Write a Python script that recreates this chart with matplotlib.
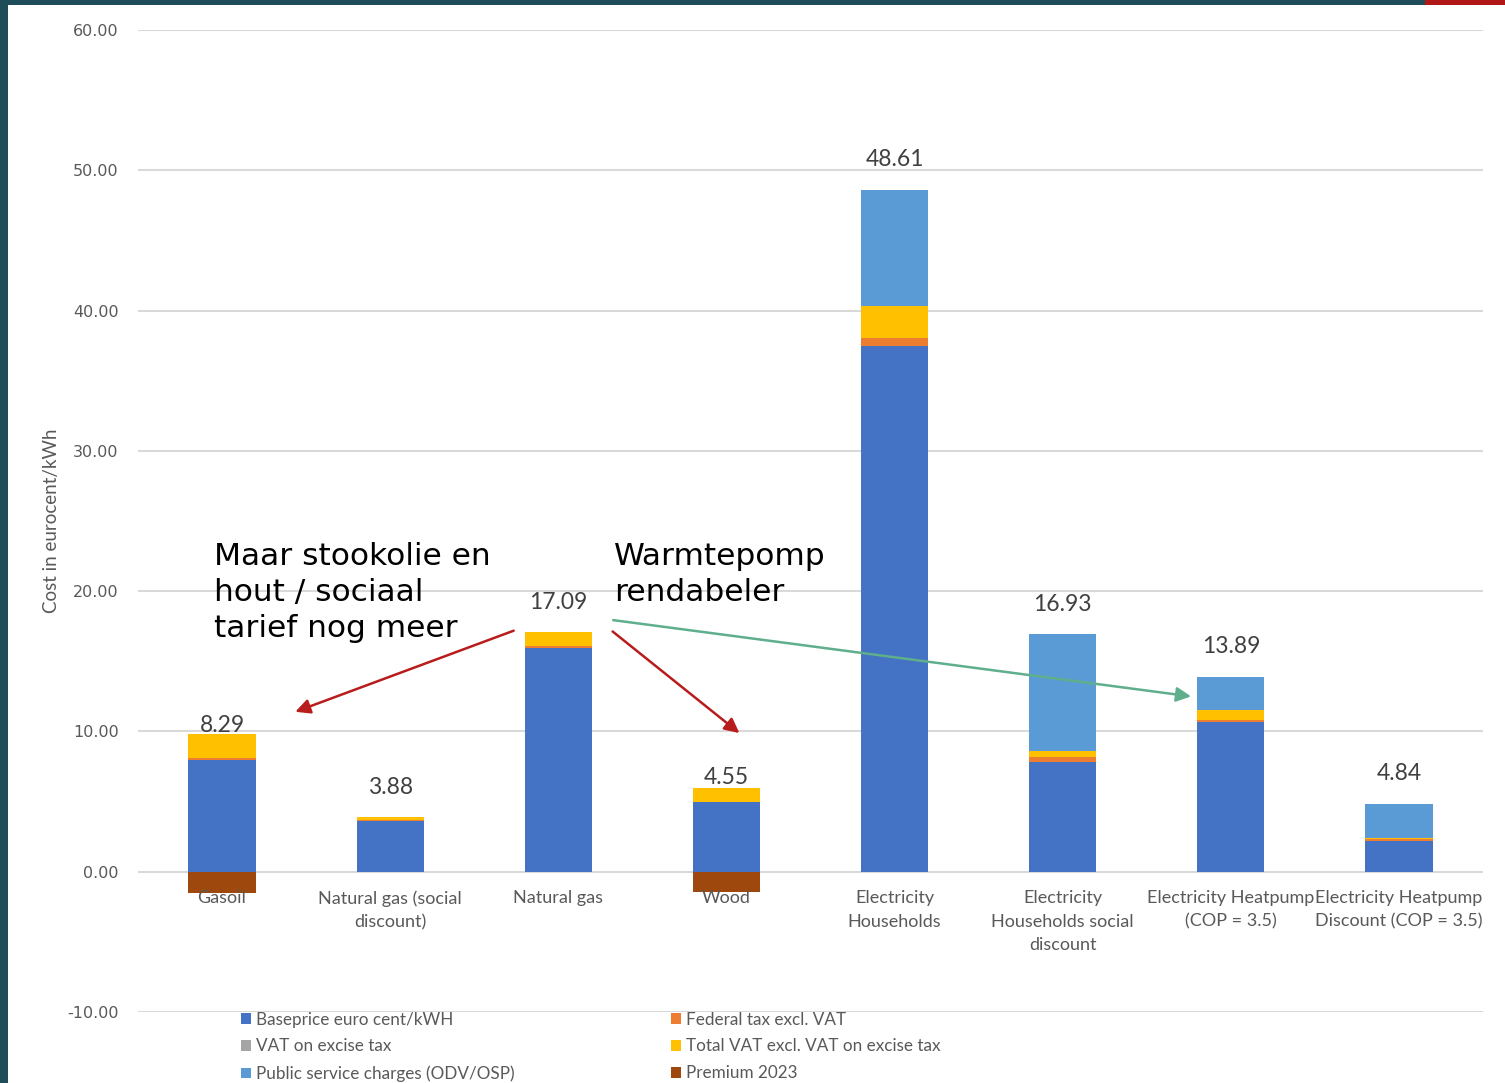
import matplotlib.pyplot as plt
from matplotlib.patches import Rectangle, Patch
import numpy as np

# categories and stacked components (eurocent/kWh)
categories = ["Gasoil", "Natural gas (social\ndiscount)", "Natural gas", "Wood",
              "Electricity\nHouseholds", "Electricity\nHouseholds social\ndiscount",
              "Electricity Heatpump\n(COP = 3.5)", "Electricity Heatpump\nDiscount (COP = 3.5)"]
baseprice = [7.93, 3.63, 15.95, 4.94, 37.51, 7.79, 10.69, 2.21]
federal_tax = [0.15, 0.03, 0.15, 0.0, 0.52, 0.36, 0.15, 0.10]
vat_excise = [0.0, 0.0, 0.0, 0.0, 0.0, 0.0, 0.0, 0.0]
total_vat = [1.72, 0.22, 0.99, 1.05, 2.33, 0.42, 0.66, 0.12]
public_service = [0.0, 0.0, 0.0, 0.0, 8.25, 8.36, 2.39, 2.41]
premium = [-1.51, 0.0, 0.0, -1.44, 0.0, 0.0, 0.0, 0.0]
totals = [8.29, 3.88, 17.09, 4.55, 48.61, 16.93, 13.89, 4.84]

series = [
    ("Baseprice euro cent/kWH", baseprice, "#4472C4"),
    ("Federal tax excl. VAT", federal_tax, "#ED7D31"),
    ("VAT on excise tax", vat_excise, "#A5A5A5"),
    ("Total VAT excl. VAT on excise tax", total_vat, "#FFC000"),
    ("Public service charges (ODV/OSP)", public_service, "#5B9BD5"),
    ("Premium 2023", premium, "#9E480E"),
]

plt.rcParams["font.family"] = ["Lato", "DejaVu Sans"]

fig = plt.figure(figsize=(15.05, 10.83), dpi=100)
fig.patch.set_facecolor("#1e4c58")
# white slide panel + red corner
fig.add_artist(Rectangle((8 / 1505, 0), 1, 1 - 5 / 1083, transform=fig.transFigure,
                         facecolor="white", edgecolor="none", zorder=0))
fig.add_artist(Rectangle((1425 / 1505, 1 - 5 / 1083), 1, 5 / 1083, transform=fig.transFigure,
                         facecolor="#b01818", edgecolor="none", zorder=0))

ax = fig.add_axes([138 / 1505, 71 / 1083, 1345 / 1505, 982 / 1083])
ax.set_facecolor("none")

x = np.arange(len(categories))
width = 0.4
pos_bottom = np.zeros(len(categories))
for name, vals, color in series:
    vals = np.array(vals)
    if name == "Premium 2023":
        ax.bar(x, vals, width, bottom=0, color=color, zorder=3)
    else:
        ax.bar(x, vals, width, bottom=pos_bottom, color=color, zorder=3)
        pos_bottom += vals

for i, t in enumerate(totals):
    ax.annotate(f"{t:.2f}", xy=(i, t), xytext=(0, 14), textcoords="offset points",
                ha="center", va="bottom", fontsize=16.5, color="#404040", zorder=5)

for i, c in enumerate(categories):
    ax.annotate(c, xy=(i, 0), xytext=(0, -13.5), textcoords="offset points",
                ha="center", va="top", fontsize=13, color="#595959",
                linespacing=1.55, zorder=5)

ax.set_xlim(-0.5, 7.5)
ax.set_ylim(-10, 60)
ax.set_yticks(np.arange(-10, 61, 10))
ax.set_yticklabels([f"{v:.2f}" for v in np.arange(-10, 61, 10)], family="DejaVu Sans")
ax.tick_params(axis="y", length=0, pad=14, labelsize=11.5, labelcolor="#595959")
ax.set_xticks([])
ax.grid(axis="y", color="#d9d9d9", linewidth=1.5, zorder=0)
for s in ax.spines.values():
    s.set_visible(False)
ax.set_ylabel("Cost in eurocent/kWh", fontsize=13.5, color="#595959")
ax.yaxis.set_label_coords(-78 / 1345, 0.5)

# slide annotations
ax.text(-0.05, 23.5, "Maar stookolie en\nhout / sociaal\ntarief nog meer", fontsize=22.5,
        family="DejaVu Sans", color="black", va="top", ha="left", linespacing=1.3, zorder=6)
ax.text(2.33, 23.5, "Warmtepomp\nrendabeler", fontsize=22.5, family="DejaVu Sans",
        color="black", va="top", ha="left", linespacing=1.3, zorder=6)

red = dict(arrowstyle="-|>", color="#b81c1c", lw=1.8, mutation_scale=22)
ax.annotate("", xy=(0.42, 11.33), xytext=(1.75, 17.25), arrowprops=red, zorder=6)
ax.annotate("", xy=(3.09, 9.76), xytext=(2.31, 17.25), arrowprops=red, zorder=6)
green = dict(arrowstyle="-|>", color="#5fae8c", lw=1.8, mutation_scale=22)
ax.annotate("", xy=(5.78, 12.47), xytext=(2.31, 17.96), arrowprops=green, zorder=6)

# legend in two columns
col1 = [series[0], series[2], series[4]]
col2 = [series[1], series[3], series[5]]
for col, xpos in ((col1, 232 / 1505), (col2, 662 / 1505)):
    handles = [Patch(facecolor=c, label=n) for n, _, c in col]
    leg = fig.legend(handles=handles, loc="upper left", bbox_to_anchor=(xpos, 1 - 1003 / 1083),
                     frameon=False, fontsize=12.3, handlelength=0.6, handleheight=0.6,
                     handletextpad=0.3, labelspacing=0.64, borderpad=0)
    for t in leg.get_texts():
        t.set_color("#595959")

fig.savefig("out.png", dpi=100, facecolor=fig.get_facecolor())
